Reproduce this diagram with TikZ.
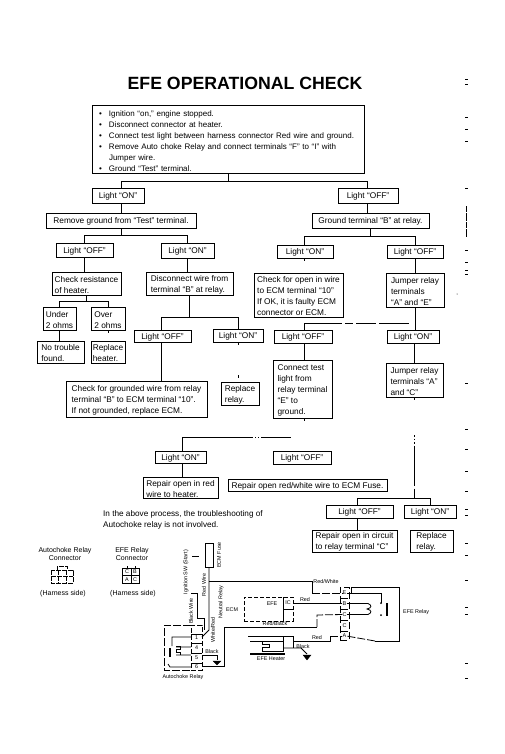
\documentclass[tikz,border=0pt]{standalone}
\usepackage{fontspec}
\setmainfont{Liberation Sans}
\usetikzlibrary{calc}
\tikzset{
  bx/.style={draw=black,line width=1pt,inner sep=0pt,outer sep=0pt,align=left,font=\fontsize{8.3}{11}\selectfont,fill=white},
  ln/.style={draw=black,line width=1pt},
  brk/.style={draw=black,line width=1pt,dash pattern=on 3pt off 30pt},
  thin/.style={draw=black,line width=0.8pt},
  dsh/.style={draw=black,line width=0.8pt,dash pattern=on 8pt off 2pt},
  sm/.style={font=\fontsize{5.4}{8}\selectfont,inner sep=0pt,align=center},
  big/.style={font=\fontsize{7}{8.5}\selectfont,inner sep=0pt,align=center},
  rot/.style={font=\fontsize{5.4}{8}\selectfont,inner sep=0pt,rotate=90},
  txt/.style={font=\fontsize{8.2}{11}\selectfont,inner sep=0pt,align=left},
  gnd/.style={fill=black,draw=black,line width=0.3pt}
}
\newcommand\bx[6]{\node[bx,minimum width={(#4-#2)*1pt},minimum height={(#5-#3)*1pt}] (#1) at ({(#2+#4)/2},{(#3+#5)/2}) {\rule{0pt}{8.5pt}#6};}
\newcommand\blt{\makebox[13pt][l]{\hspace*{3pt}\textbullet}}
\begin{document}
\begin{tikzpicture}[x=1pt,y=-1pt]
\useasboundingbox[fill=white] (0,0) rectangle (504,754);
\node[inner sep=0pt,font=\fontsize{17.7}{20}\selectfont\bfseries] (title) at (245,83) {EFE OPERATIONAL CHECK};
% top box
\node[bx,minimum width=272pt,minimum height=68pt,text width=264pt,font=\fontsize{8}{11.1}\selectfont] (top) at (228,140) {%
\rule{0pt}{8pt}\blt Ignition ``on,'' engine stopped.\\
\blt Disconnect connector at heater.\\
\blt Connect test light between harness connector Red wire and ground.\\
\blt Remove Auto choke Relay and connect terminals ``F'' to ``I'' with\\
\makebox[13pt][l]{}Jumper wire.\\
\blt Ground ``Test'' terminal.};
% row 1
\bx{on1}{92}{188}{144}{203}{Light ``ON''}
\bx{off1}{338}{188}{398}{203}{Light ``OFF''}
\bx{rem}{46}{213}{196}{228}{Remove ground from ``Test'' terminal.}
\bx{gt}{312}{213}{429}{228}{Ground terminal ``B'' at relay.}
% left branch
\bx{off2}{56}{243}{113}{257}{Light ``OFF''}
\bx{on2}{161}{243}{214}{258}{Light ``ON''}
\bx{chk}{52}{272}{121}{295}{Check resistance\\of heater.}
\bx{dis}{146}{272}{233}{295}{Disconnect wire from\\terminal ``B'' at relay.}
\bx{und}{43}{307}{76}{330}{Under\\2 ohms}
\bx{ovr}{91}{307}{125}{330}{Over\\2 ohms}
\bx{not}{37}{341}{84}{363}{No trouble\\found.}
\bx{rph}{91}{341}{125}{363}{Replace\\heater.}
\bx{off3}{134}{330}{191}{342}{Light ``OFF''}
\bx{on3}{213}{329}{263}{342}{Light ``ON''}
\bx{gnd1}{66}{381}{207}{417}{Check for grounded wire from relay\\terminal ``B'' to ECM terminal ``10''.\\If not grounded, replace ECM.}
\bx{rr1}{221}{382}{259}{405}{Replace\\relay.}
% right branch
\bx{on4}{277}{245}{333}{258}{Light ``ON''}
\bx{off4}{387}{245}{443}{258}{Light ``OFF''}
\bx{opn}{254}{273}{343}{317}{Check for open in wire\\to ECM terminal ``10''\\If OK, it is faulty ECM\\connector or ECM.}
\bx{jmp}{386}{273}{444}{307}{Jumper relay\\terminals\\``A'' and ``E''}
\bx{off5}{274}{330}{332}{343}{Light ``OFF''}
\bx{on5}{387}{330}{439}{343}{Light ``ON''}
\bx{con}{273}{360}{332}{418}{Connect test\\light from\\relay terminal\\``E'' to\\ground.}
\bx{jm2}{386}{363}{443}{397}{Jumper relay\\terminals ``A''\\and ``C''}
\bx{on6}{155}{451}{206}{463}{Light ``ON''}
\bx{off6}{273}{451}{331}{464}{Light ``OFF''}
\bx{rrd}{143}{477}{218}{498}{Repair open in red\\wire to heater.}
\bx{rrw}{228}{479}{387}{491}{Repair open red/white wire to ECM Fuse.}
\bx{off7}{326}{505}{393}{518}{Light ``OFF''}
\bx{on7}{404}{505}{456}{518}{Light ``ON''}
\bx{rci}{312}{530}{397}{552}{Repair open in circuit\\to relay terminal ``C''}
\bx{rr2}{410}{530}{453}{552}{Replace\\relay.}
\node[txt,anchor=north west] (note) at (103,510) {In the above process, the troubleshooting of\\Autochoke relay is not involved.};
% connectors
\draw[ln] (top.south) -- ++(0,7) -| ([xshift=3pt]on1.north);
\draw[ln] (top.south) -- ++(0,7) -| ([xshift=-1pt]off1.north);
\draw[ln] ([xshift=3pt]on1.south) -- ([xshift=3pt]rem.north -| on1.south);
\draw[ln] ([xshift=-1pt]off1.south) -- ([xshift=-1pt]gt.north -| off1.south);
\draw[ln] (rem.south) -- ++(0,7) -| (off2.north);
\draw[ln] (rem.south) -- ++(0,7) -| (on2.north);
\draw[ln] (off2.south) -- (chk.north -| off2.south);
\draw[ln] (on2.south) -- (dis.north -| on2.south);
\draw[ln] (chk.south) -- ++(0,6) -| (und.north);
\draw[ln] (chk.south) -- ++(0,6) -| (ovr.north);
\draw[ln] (und.south) -- (not.north -| und.south);
\draw[brk] (ovr.south) -- (rph.north);
\draw[ln] (dis.south) -- ++(0,22) -| ([xshift=-1.5pt]off3.north);
\draw[ln] (dis.south) -- ++(0,22) -| (on3.north);
\draw[ln] ([xshift=-1.5pt]off3.south) -- ([xshift=-1.5pt]gnd1.north -| off3.south);
\draw[brk] (on3.south) -- (rr1.north -| on3.south);
\draw[ln] (gt.south) -- ++(0,8) -| ([xshift=-1pt]on4.north);
\draw[ln] (gt.south) -- ++(0,8) -| (off4.north);
\draw[brk] ([xshift=-1pt]on4.south) -- ([xshift=-1pt]opn.north -| on4.south);
\draw[ln] (off4.south) -- (jmp.north -| off4.south);
\draw[ln] (jmp.south -| off4.south) -- (on5.north -| off4.south);
\coordinate (jr) at (415,323);
\draw[ln,dash pattern=on 45pt off 3pt on 8pt off 3pt on 20pt off 3pt on 30pt] ([xshift=1pt]off5.north) -- ([xshift=1pt]off5.north |- jr) -- (jr);
\draw[ln] ([xshift=1pt]off5.south) -- ([xshift=1pt]con.north -| off5.south);
\draw[ln] ([xshift=1pt]on5.south) -- ([xshift=1pt]jm2.north -| on5.south);
\draw[brk] ([xshift=1pt]con.south -| off5.south) -- ++(0,19);
\draw[ln,dash pattern=on 85pt off 2pt on 1pt off 2pt on 1pt off 2pt on 30pt] ([xshift=1.5pt]on6.north) -- ++(0,-14) -| ([xshift=1pt]off6.north);
\draw[ln] ([xshift=1.5pt]on6.south) -- ([xshift=1.5pt]rrd.north -| on6.south);
\coordinate (jb) at (414,498);
\draw[ln,dash pattern=on 3pt off 35pt on 1.5pt off 2pt on 1.5pt off 2pt on 1.5pt off 2pt on 40pt] ([xshift=-0.5pt]jm2.south) -- (jb);
\draw[ln] ([xshift=-2.5pt]off7.north) -- ++(0,-7) -- ++(73,0) -- ([xshift=0pt]on7.north);
\draw[ln] ([xshift=-2.5pt]off7.south) -- ([xshift=-2.5pt]rci.north -| off7.south);
% margin specks
\foreach \y in {80,85,118,130,142,188,250,262,270,274,383,429,449,471,491,509,515,543,555,580,607,614,663,678}
  \draw[line width=1pt] (465,\y) -- ++(2.5,0);
\draw[line width=1pt,dash pattern=on 6pt off 1pt on 8pt off 1pt] (466,206) -- (466,238);
\fill (457,294) circle (0.5pt);
% connector icons
\node[big] (aclab) at (65,554) {Autochoke Relay\\Connector};
\node[big] (eflab) at (132,554) {EFE Relay\\Connector};
\node[big] (ach) at (63,594) {(Harness side)};
\node[big] (efh) at (133,594) {(Harness side)};
\draw[thin,dash pattern=on 5pt off 1pt] (51,570) rectangle (73,583) (57,570) -- (57,566) -- (67,566) -- (67,570) (51,576) -- (73,576) (58,570) -- (58,583) (66,570) -- (66,583);
\node[draw=black,line width=0.8pt,minimum width=17pt,minimum height=15pt,inner sep=0pt] (ef) at (131,575.5) {};
\draw[thin] (ef.north) -- (ef.south) (ef.west) -- (ef.east) ([xshift=-4pt]ef.north) -- ++(0,-2) ([xshift=4pt]ef.north) -- ++(0,-2);
\node[sm] (lc1) at (127,572) {C};
\node[sm] (lb1) at (135,572) {B};
\node[sm] (la1) at (127,579.5) {A};
\node[sm] (lc2) at (135,579.5) {C};
% wiring
\node[draw=black,line width=1pt,minimum width=8pt,minimum height=24pt,inner sep=0pt] (fuse) at (209,555) {};
\node[rot] (fl) at (219,555) {ECM Fuse};
\node[rot] (ig) at (186,572) {Ignition SW (Start)};
\node[rot] (rw) at (204,585) {Red Wire};
\node[rot] (bw) at (191,611) {Black Wire};
\node[rot] (wr) at (213,630) {White/Red};
\node[rot] (nr) at (221,602) {Neutral Relay};
\coordinate (igt) at (192,556);
\draw[thin] (igt) -- ++(7,0);
\node[inner sep=0pt,minimum width=9pt,minimum height=53pt,draw=black,line width=0.8pt,dash pattern=on 7pt off 3pt] (term) at (344.5,613.5) {};
\foreach \n/\y/\t in {tE/593/E,tB/603.5/B,tC/614.5/C,tD/626/C,tA/636/A} \node[sm,font=\fontsize{5.5}{7}\selectfont] (\n) at (344.5,\y) {\t};
\foreach \y in {598,609,620,631} \draw[thin] (341,\y) -- (348,\y);
\coordinate (ww) at (209,581);
\draw[thin] (fuse.south) -- (209,630) -- (202,637);
\draw[thin] (ww) -- (312,581) -- (312,593);
\draw[dsh] (312,593) -- (tE.west);
\node[sm,anchor=south] (rwl) at (326,584) {Red/White};
\draw[thin] (351,593) -- (351,587) -- (399,587) -- (399,641) -- (375,641);
\draw[dsh] (375,641) -- (tA.east);
\draw[thin] (tE.east) -- (381,593) -- (381,603);
\draw[thin] (tB.east) -- (368,603.5) (tC.east) -- (368,614.5);
\draw[thin] (368,603.5) .. controls (372,605) and (372,608) .. (367,609) .. controls (372,610) and (372,613) .. (368,614.5);
\fill (381,603) circle (1pt) (381,615) circle (1pt);
\draw[line width=1.6pt] (387,603) -- (387,616);
\node[sm,anchor=west] (efr) at (403,612) {EFE Relay};
% ECM
\node[sm] (ecm) at (232,610) {ECM};
\node[draw=black,line width=0.8pt,dash pattern=on 4pt off 2pt,minimum width=49pt,minimum height=24pt,inner sep=0pt] (ebox) at (268.5,609) {};
\draw[thin] (283,597) -- (283,621) (283,609) -- (293,609);
\node[sm] (efe) at (272,604) {EFE};
\node[sm] (ic) at (288,603) {IC};
\draw[thin] (293,603.5) -- (tB.west);
\node[sm,anchor=south] (rd1) at (305,602) {Red};
\draw[thin] (224,667) -- (224,627) -- (317,627);
\draw[dsh] (317,627) -- (317,615) -- (tC.west);
\node[sm] (rbl) at (275,624) {Red/Black};
% heater
\draw[thin] (248,636) -- (293,636) -- (293,648);
\draw[line width=1.2pt] (250,654) -- (285,654);
\draw[thin] (283,636) -- (283,652) (250,641) -- (283,641);
\draw[thin] (283,651) -- (262,651) -- (262,647) -- (269,647) -- (269,644) -- (262,644) -- (262,641);
\draw[thin] (293,641) -- (330,641) -- (330,636);
\draw[dsh] (330,636) -- (tA.west);
\node[sm,anchor=south] (rd2) at (317,640) {Red};
\draw[thin] (283,648) -- (301,648) -- (307,654);
\node[sm] (bk2) at (303,647) {Black};
\draw[gnd] (303,655) -- (311,655) -- (307,660) -- cycle;
\node[sm] (efh2) at (271,659) {EFE Heater};
% autochoke relay
\draw[dsh] (191,625) -- (164,625) -- (164,670) -- (191,670);
\node[draw=black,line width=0.8pt,dash pattern=on 5pt off 2pt,minimum width=11pt,minimum height=45pt,inner sep=0pt] (rel) at (196.5,647.5) {};
\foreach \n/\y/\t in {t1/638/1,t4/648/4,t5/658/5,t6/667/6} \node[sm] (\n) at (196.5,\y) {\t};
\foreach \y in {634,643,653,663} \draw[thin] (191,\y) -- (202,\y);
\draw[thin] (191,593) -- (197,593) -- (197,618) -- (204,618) -- (204,630);
\draw[thin] (191,637) -- (172,637) -- (172,646) (191,647) -- (176,647) (191,655) -- (176,655) (191,667) -- (170,667) -- (168,664);
\draw[thin] (176,646) -- (180,646) -- (180,649) -- (176,649) -- (176,652) -- (180,652) -- (180,655);
\draw[line width=1.2pt] (170,648) -- (170,657);
\draw[thin] (202,666) -- (224,666);
\draw[thin] (202,655) -- (217,655) -- (217,660);
\node[sm] (bk1) at (212,652) {Black};
\draw[gnd] (213,661) -- (221,661) -- (217,665) -- cycle;
\node[sm] (acr) at (183,677) {Autochoke Relay};
\end{tikzpicture}
\end{document}
